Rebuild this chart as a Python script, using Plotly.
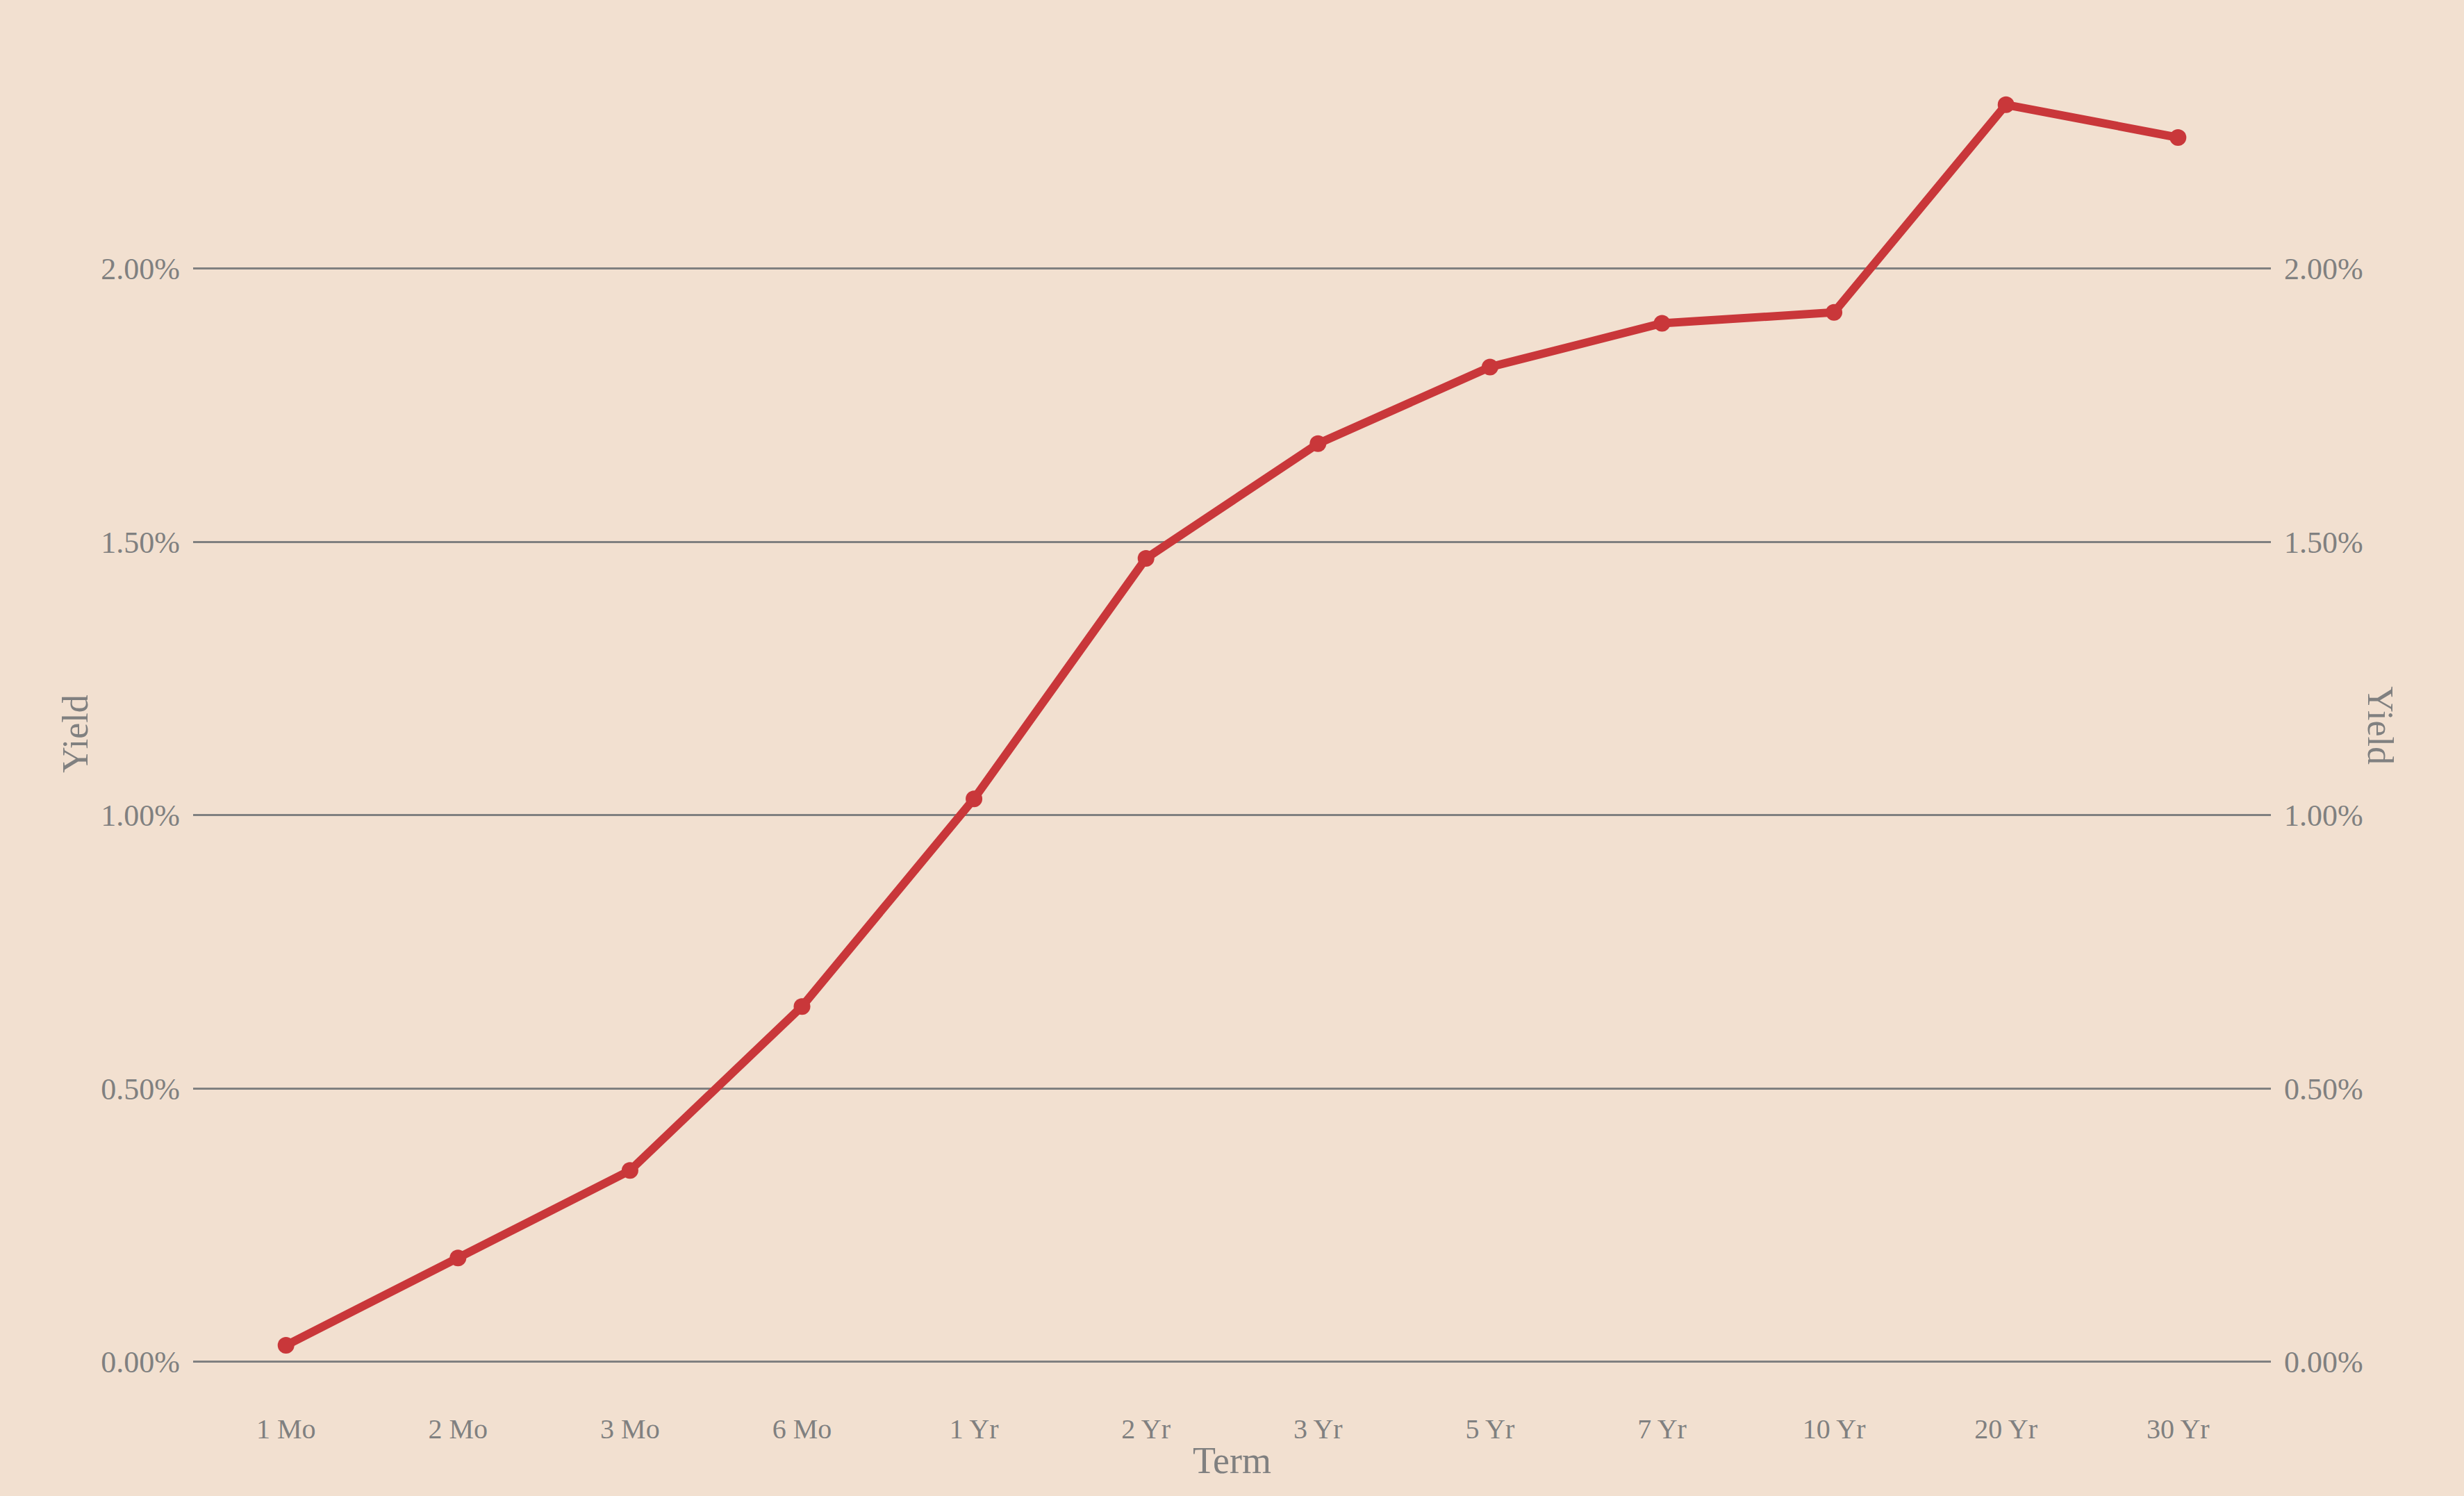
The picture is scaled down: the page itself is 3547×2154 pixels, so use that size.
import plotly.graph_objects as go

terms = ["1 Mo", "2 Mo", "3 Mo", "6 Mo", "1 Yr", "2 Yr", "3 Yr", "5 Yr", "7 Yr", "10 Yr", "20 Yr", "30 Yr"]
yields = [0.0003, 0.0019, 0.0035, 0.0065, 0.0103, 0.0147, 0.0168, 0.0182, 0.0190, 0.0192, 0.0230, 0.0224]
y_ticks = [0.0, 0.005, 0.010, 0.015, 0.020]

BG = "#F2E0D0"
RED = "#C9373A"
GREY = "#808080"
FONT = "Georgia, 'Liberation Serif', serif"

fig = go.Figure()
fig.add_trace(go.Scatter(
    x=terms, y=yields, mode="lines+markers",
    line=dict(color=RED, width=12),
    marker=dict(color=RED, size=24),
    showlegend=False, cliponaxis=False,
))
fig.add_trace(go.Scatter(
    x=terms, y=yields, mode="markers", yaxis="y2",
    marker=dict(opacity=0), showlegend=False, hoverinfo="skip",
))

yrange = [-0.0005, 0.02348]
fig.update_layout(
    width=3547, height=2154,
    paper_bgcolor=BG, plot_bgcolor=BG,
    margin=dict(l=278, r=278, t=113, b=154),
    font=dict(family=FONT, color=GREY, size=40),
    xaxis=dict(
        type="category", range=[-0.54, 11.54],
        showgrid=False, zeroline=False, showline=False,
        ticks="", ticklabelstandoff=30,
        tickfont=dict(size=40, color=GREY),
        title=dict(text="Term", font=dict(size=54, color=GREY), standoff=4),
    ),
    yaxis=dict(
        range=yrange, tickvals=y_ticks, tickformat=".2%",
        showgrid=True, gridcolor=GREY, gridwidth=3,
        zeroline=False, showline=False, ticks="", ticklabelstandoff=18,
        tickfont=dict(size=44, color=GREY),
        title=dict(text="Yield", font=dict(size=52, color=GREY), standoff=2),
    ),
    yaxis2=dict(
        range=yrange, tickvals=y_ticks, tickformat=".2%",
        overlaying="y", side="right", showgrid=False, zeroline=False,
        showline=False, ticks="", ticklabelstandoff=18,
        tickfont=dict(size=44, color=GREY),
    ),
    annotations=[dict(
        text="Yield", xref="paper", yref="paper", x=1.0528, y=0.506,
        textangle=90, showarrow=False, font=dict(size=52, color=GREY),
        xanchor="center", yanchor="middle",
    )],
)

fig.write_html(
    "out.html",
    config={"displayModeBar": False},
    post_script="document.body.style.margin='0';document.body.style.background='%s';"
                "document.body.style.overflow='hidden';" % BG,
)
